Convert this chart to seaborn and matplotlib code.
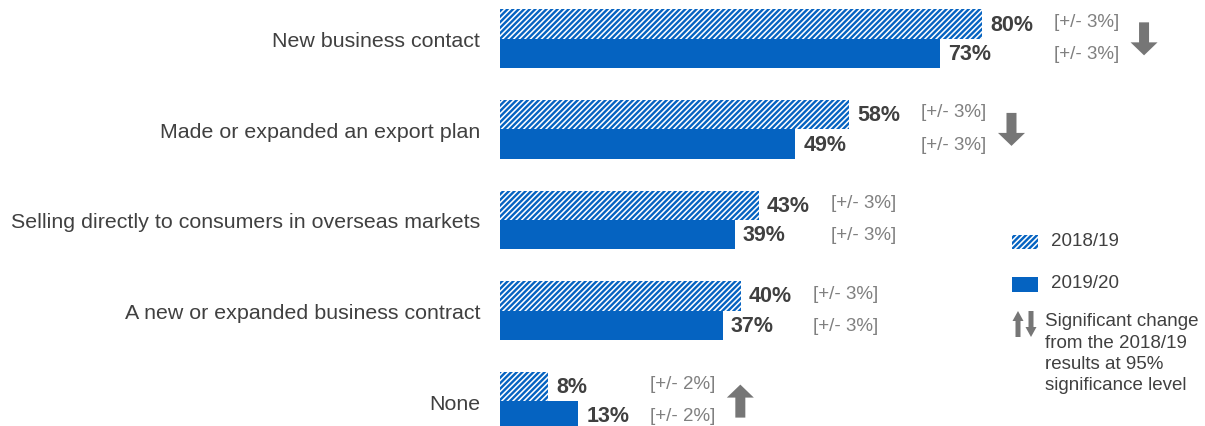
import matplotlib
matplotlib.use("Agg")
import matplotlib.pyplot as plt
from matplotlib.patches import Rectangle, FancyArrow
import seaborn as sns
import pandas as pd

# --- data -------------------------------------------------------------
categories = [
    "New business contact",
    "Made or expanded an export plan",
    "Selling directly to consumers in overseas markets",
    "A new or expanded business contract",
    "None",
]
years = ["2018/19", "2019/20"]
pct_2018_19 = [80, 58, 43, 40, 8]
pct_2019_20 = [73, 49, 39, 37, 13]
margin_2018_19 = [3, 3, 3, 3, 2]
margin_2019_20 = [3, 3, 3, 3, 2]
# significant change from 2018/19: "down", "up" or None
sig_change = ["down", "down", None, None, "up"]

# --- styling ----------------------------------------------------------
BLUE = "#0563C1"
GREY_ARROW = "#767676"
TEXT_DARK = "#404040"
TEXT_GREY = "#808080"
HATCH = "//////"
W, H, DPI = 1205, 427, 100

sns.set_theme(style="white")
plt.rcParams["font.family"] = ["Liberation Sans", "DejaVu Sans"]
plt.rcParams["hatch.linewidth"] = 1.7

df = pd.DataFrame({
    "item": categories * 2,
    "pct": pct_2018_19 + pct_2019_20,
    "year": [years[0]] * len(categories) + [years[1]] * len(categories),
})

fig = plt.figure(figsize=(W / DPI, H / DPI), dpi=DPI)
ax_left, ax_w = 500 / W, 705 / W
ax = fig.add_axes([ax_left, 0, ax_w, 1])

sns.barplot(data=df, y="item", x="pct", hue="year", orient="h",
            order=categories, hue_order=years, palette=[BLUE, BLUE],
            width=0.65, saturation=1, legend=False, ax=ax)

XMAX = 117.0
ax.set_xlim(0, XMAX)
ax.set_ylim(4.275, -0.44)
px_per_x = (ax_w * W) / XMAX      # pixels per percentage point
px_per_y = H / (4.275 + 0.44)     # pixels per category step

hatched, solid = ax.containers[0], ax.containers[1]
for bar in hatched:
    bar.set_facecolor("white")
    bar.set_edgecolor(BLUE)
    bar.set_hatch(HATCH)
    bar.set_linewidth(0)
for bar in solid:
    bar.set_linewidth(0)

ax.set_xlabel("")
ax.set_ylabel("")
ax.set_xticks([])
for s in ax.spines.values():
    s.set_visible(False)
ax.tick_params(axis="y", length=0, pad=20 * 0.72, labelsize=15.4, labelcolor=TEXT_DARK)

def pt(px):
    return px * 72 / DPI

# value labels and margins of error
for i in range(len(categories)):
    b1, b2 = hatched[i], solid[i]
    y1 = b1.get_y() + b1.get_height() / 2
    y2 = b2.get_y() + b2.get_height() / 2
    v1, v2 = pct_2018_19[i], pct_2019_20[i]
    ax.annotate(f"{v1}%", xy=(v1, y1), xytext=(pt(8), 0), textcoords="offset points",
                ha="left", va="center", fontsize=15.5, fontweight="bold", color=TEXT_DARK)
    ax.annotate(f"{v2}%", xy=(v2, y2), xytext=(pt(8), 0), textcoords="offset points",
                ha="left", va="center", fontsize=15.5, fontweight="bold", color=TEXT_DARK)
    vmax = max(v1, v2)
    ax.annotate(f"[+/- {margin_2018_19[i]}%]", xy=(vmax, y1 - 0.03), xytext=(pt(72), 0),
                textcoords="offset points", ha="left", va="center",
                fontsize=13.5, color=TEXT_GREY)
    ax.annotate(f"[+/- {margin_2019_20[i]}%]", xy=(vmax, y2), xytext=(pt(72), 0),
                textcoords="offset points", ha="left", va="center",
                fontsize=13.5, color=TEXT_GREY)

    # significance arrow
    if sig_change[i]:
        xc = vmax + (72 + 90) / px_per_x
        half = 16.5 / px_per_y
        if sig_change[i] == "down":
            y0, dy = i - half, 2 * half
        else:
            y0, dy = i + half, -2 * half
        ax.add_patch(FancyArrow(xc, y0, 0, dy, width=10 / px_per_x,
                                head_width=27 / px_per_x, head_length=13 / px_per_y,
                                length_includes_head=True, color=GREY_ARROW, lw=0,
                                clip_on=False))

# --- legend (figure pixel coordinates, origin top-left) --------------
def fx(px):
    return px / W

def fy(py):
    return 1 - py / H

fig.add_artist(Rectangle((fx(1012), fy(250)), 26 / W, 14 / H, transform=fig.transFigure,
                         facecolor="white", edgecolor=BLUE, hatch=HATCH, lw=0))
fig.add_artist(Rectangle((fx(1012), fy(293)), 26 / W, 15 / H, transform=fig.transFigure,
                         facecolor=BLUE, lw=0))
fig.text(fx(1051), fy(242), years[0], ha="left", va="center", fontsize=13.5, color=TEXT_DARK)
fig.text(fx(1051), fy(284), years[1], ha="left", va="center", fontsize=13.5, color=TEXT_DARK)

# up/down icon
fig.add_artist(FancyArrow(fx(1018), fy(338), 0, 26 / H, width=5 / W, head_width=11 / W,
                          head_length=10 / H, length_includes_head=True,
                          transform=fig.transFigure, color=GREY_ARROW, lw=0))
fig.add_artist(FancyArrow(fx(1031), fy(312), 0, -26 / H, width=5 / W, head_width=11 / W,
                          head_length=10 / H, length_includes_head=True,
                          transform=fig.transFigure, color=GREY_ARROW, lw=0))
note_lines = ["Significant change", "from the 2018/19", "results at 95%", "significance level"]
for k, line in enumerate(note_lines):
    fig.text(fx(1045), fy(322 + 21.3 * k), line, ha="left", va="center",
             fontsize=13.5, color=TEXT_DARK)

fig.savefig("out.png", dpi=DPI)
